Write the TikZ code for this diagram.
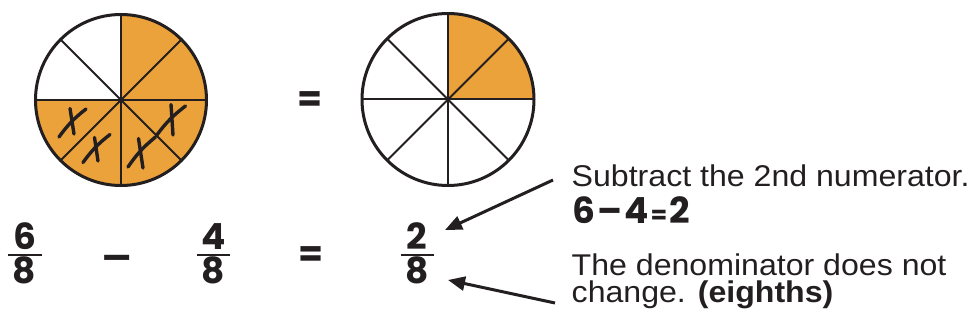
\documentclass[tikz,border=0pt]{standalone}
\usepackage{fontspec}
\setmainfont{Liberation Sans}
\newfontfamily\notefont{Liberation Sans}[FakeStretch=1.07]
\newfontfamily\pop{Poppins}
\usetikzlibrary{arrows.meta}
\definecolor{ink}{HTML}{231F20}
\definecolor{pie}{HTML}{ECA23B}
\begin{document}
\begin{tikzpicture}[x=1pt,y=-1pt,
  outline/.style={draw=ink,line width=3pt},
  divider/.style={draw=ink,line width=2pt},
  cross/.style={draw=ink,line width=3.4pt,line cap=round},
  digit/.style={inner sep=0pt,anchor=base,text=ink,font=\pop\bfseries\fontsize{36}{36}\selectfont},
  note/.style={inner sep=0pt,anchor=base west,text=ink,align=left,font=\notefont\fontsize{30}{27}\selectfont},
  bar/.style={draw=ink,line width=2pt},
  pointer/.style={draw=ink,line width=3pt,-{Triangle[length=17pt,width=14pt]}}]
\useasboundingbox (0,0) rectangle (970,326);
% left circle
\coordinate (cl) at (121,100);
\fill[pie] (cl) -- ++(-90:85.5) arc[start angle=-90,end angle=180,radius=85.5] -- cycle;
\foreach \a in {0,45,...,315} \draw[divider] (cl) -- ++(\a:85.5);
\draw[outline] (cl) circle[radius=85.5];
% crosses
\draw[cross] (59,137) to[bend left=8] (86,109);
\draw[cross] (70,108.5) -- (74,134);
\draw[cross] (83,162.5) to[bend left=8] (110,134.5);
\draw[cross] (94.5,137.5) -- (98,161);
\draw[cross] (128,167) to[bend left=8] (155.5,137);
\draw[cross] (138.5,138.5) -- (143,168);
\draw[cross] (156.5,135.5) to[bend left=8] (185.5,106);
\draw[cross] (171,104.5) -- (173,135);
% right circle
\coordinate (cr) at (448,99.5);
\fill[pie] (cr) -- ++(-90:86) arc[start angle=-90,end angle=0,radius=86] -- cycle;
\foreach \a in {0,45,...,315} \draw[divider] (cr) -- ++(\a:86);
\draw[outline] (cr) circle[radius=86];
% equals between circles
\node[digit] (eqtop) at (310.5,112) {=};
% fractions
\node[digit] (n1) at (24.5,250) {6};
\node[digit] (d1) at (24.5,283.5) {8};
\draw[bar] (7.5,255) -- (41.5,255);
\node[digit] (minus) at (117.5,270) {\scalebox{1.25}[1]{–}};
\node[digit] (n2) at (213.5,250) {4};
\node[digit] (d2) at (213.5,283.5) {8};
\draw[bar] (197,255) -- (230,255);
\node[digit] (eqbot) at (311,266.5) {=};
\node[digit] (n3) at (417,250) {2};
\node[digit] (d3) at (417,283.5) {8};
\draw[bar] (400.5,255) -- (433.5,255);
% notes
\node[note] (t1) at (571.5,187) {Subtract the 2nd numerator.};
\node[digit,anchor=base west] (t2) at (572,223) {6\hspace{2pt}–\hspace{2pt}4\hspace{2pt}{\fontsize{24}{24}\selectfont=}\hspace{2pt}2};
\node[note,anchor=base west] (t3) at (571.5,302.5) {The denominator does not\\change. \textbf{(eighths)}};
% arrows
\coordinate (a1s) at (553,180);
\coordinate (a1e) at (445,230);
\coordinate (a2s) at (555,303);
\coordinate (a2e) at (448,280);
\draw[pointer] (a1s) -- (a1e);
\draw[pointer] (a2s) -- (a2e);
\end{tikzpicture}
\end{document}
